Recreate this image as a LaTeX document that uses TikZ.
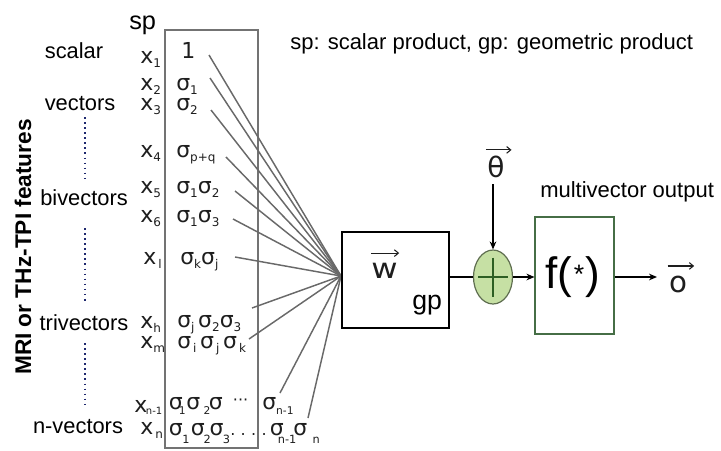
\documentclass[tikz,border=0pt]{standalone}
\usepackage{fontspec}
\setmainfont{Liberation Sans}
\newfontfamily\gfont{DejaVu Sans}
\usetikzlibrary{arrows.meta,shapes.geometric}
\definecolor{fangray}{RGB}{105,105,105}
\definecolor{boxgray}{RGB}{115,115,115}
\definecolor{sumfill}{RGB}{198,224,164}
\definecolor{sumdraw}{RGB}{95,110,80}
\definecolor{plusgreen}{RGB}{45,95,35}
\definecolor{fgreen}{RGB}{70,110,70}
\definecolor{dotnavy}{RGB}{30,40,110}
\definecolor{glyph}{RGB}{30,30,30}
\newcommand\subx[1]{\raisebox{-3pt}{\fontsize{9}{9}\selectfont #1}}
\newcommand\subd[1]{\raisebox{-6pt}{\fontsize{8.5}{9}\selectfont #1}}
\newcommand\subu[1]{\raisebox{-4pt}{\fontsize{8}{8}\selectfont #1}}
\newcommand\putat[2]{\makebox[0pt][l]{\hspace{#1}#2}}
\begin{document}
\begin{tikzpicture}[x=0.75pt,y=-0.75pt,
  lbl/.style={anchor=base,font=\fontsize{16.4}{18}\selectfont,inner sep=0},
  xl/.style={anchor=base west,font=\gfont\fontsize{16.5}{18}\selectfont,inner sep=0,text=glyph},
  sg/.style={anchor=base west,font=\gfont\fontsize{16.5}{18}\selectfont,inner sep=0,text=glyph},
  fan/.style={draw=fangray,line width=1.1pt},
  dotv/.style={draw=dotnavy,line width=1.7pt,dash pattern=on 1.2pt off 2.6pt},
  arr/.style={-{Stealth[length=6pt,width=5pt]},line width=0.9pt},
  vecarr/.style={-{Straight Barb[length=3pt,width=5pt]},line width=0.8pt,draw=glyph},
]
\useasboundingbox (0,0) rectangle (721,450);

% sp container
\node (spbox) [draw=boxgray,line width=1.1pt,minimum width=69.75pt,minimum height=313.5pt,inner sep=0] at (211.5,239) {};
\node (sp) [anchor=base west,inner sep=0,font=\fontsize{19}{20}\selectfont] at (129,29) {sp};
\node (legend) [anchor=base west,inner sep=0,font=\fontsize{16.5}{18}\selectfont] at (290,49) {sp: scalar product, gp: geometric product};

% side label
\node (feat) [rotate=90,inner sep=0,font=\bfseries\fontsize{17}{18}\selectfont] at (23,247) {MRI or THz-TPI features};

% grade labels
\node (scalar) [lbl] at (74,58) {scalar};
\node (vectors) [lbl] at (80,110) {vectors};
\node (bivectors) [lbl] at (84,205) {bivectors};
\node (trivectors) [lbl] at (84,330) {trivectors};
\node (nvectors) [lbl] at (78,433) {n-vectors};

\coordinate (d1a) at (85,117); \coordinate (d1b) at (85,181);
\coordinate (d2a) at (85,228); \coordinate (d2b) at (85,303);
\coordinate (d3a) at (85,343); \coordinate (d3b) at (85,406);
\draw[dotv] (d1a) -- (d1b);
\draw[dotv] (d2a) -- (d2b);
\draw[dotv] (d3a) -- (d3b);

% x labels
\node (x1) [xl] at (140,63) {x\subx{1}};
\node (x2) [xl] at (140,90) {x\subx{2}};
\node (x3) [xl] at (140,110) {x\subx{3}};
\node (x4) [xl] at (140,157) {x\subx{4}};
\node (x5) [xl] at (140,193) {x\subx{5}};
\node (x6) [xl] at (140,222) {x\subx{6}};
\node (xl) [xl] at (143,264) {x\subx{\,l}};
\node (xh) [xl] at (140,328) {x\subx{h}};
\node (xm) [xl] at (140,348) {x\subx{m}};
\node (xn1) [xl] at (134,412) {x\hspace{-1pt}\raisebox{-1.5pt}{\fontsize{7.5}{8}\selectfont n-1}};
\node (xn) [xl] at (140,434) {x\subx{\,n}};

% basis blades
\node (r1) [sg] at (181,58) {1};
\node (r2) [sg] at (176,90) {σ\subx{1}};
\node (r3) [sg] at (176,110) {σ\subx{2}};
\node (r4) [sg] at (176,157) {σ\subx{p+q}};
\node (r5) [sg] at (176,193) {σ\subx{1}σ\subx{2}};
\node (r6) [sg] at (176,222) {σ\subx{1}σ\subx{3}};
\node (r7) [sg] at (180,264) {σ\subx{k}σ\subx{j}};
\node (r8) [sg] at (177,327) {σ\subx{j}\,σ\subx{2}σ\subx{3}};
\node (r9) [sg] at (177,348) {σ\subx{\,i}\,σ\subx{\,j}\,σ\subx{\,k}};
\node (r10) [sg] at (168,409) {\putat{0pt}{σ}\putat{7.5pt}{\subu{1}}\putat{13pt}{σ}\putat{26pt}{\subu{2}}\putat{30pt}{σ}\putat{48pt}{\raisebox{3pt}{\fontsize{12}{12}\selectfont ···}}\hspace{66pt}};
\node (r10b) [sg] at (262,409) {σ\subu{n-1}};
\node (r11) [sg] at (168,435) {\putat{0pt}{σ}\putat{10pt}{\subd{1}}\putat{16.5pt}{σ}\putat{26pt}{\subd{2}}\putat{30.5pt}{σ}\putat{40.5pt}{\subd{3}}\putat{46pt}{\fontsize{12}{12}\selectfont .\,\,.\,\,.\,\,.}\hspace{66pt}};
\node (r11b) [sg] at (269,435) {\putat{0pt}{σ}\putat{6pt}{\subd{n-1}}\putat{17.5pt}{σ}\putat{32pt}{\subd{n}}\hspace{38pt}};

% fan lines
\coordinate (conv) at (341,276);
\coordinate (s1) at (209,55);
\coordinate (s2) at (210,78);
\coordinate (s3) at (211,110);
\coordinate (s4) at (226,157);
\coordinate (s5) at (235,191);
\coordinate (s6) at (233,219);
\coordinate (s7) at (235,257);
\coordinate (s8) at (252,308);
\coordinate (s9) at (249,339);
\coordinate (s10) at (280,393);
\coordinate (s11) at (308,418);
\foreach \s in {s1,s2,s3,s4,s5,s6,s7,s8,s9,s10,s11} \draw[fan] (\s) -- (conv);

% weight box
\node (wbox) [draw=black,line width=0.8pt,minimum width=80.25pt,minimum height=72pt,inner sep=0] at (395.5,280) {};
\node (w) [anchor=base west,inner sep=0,text=glyph,font=\gfont\fontsize{21}{21}\selectfont] at (371,278) {\scalebox{1.15}[1]{w}};
\draw[vecarr] ([yshift=7pt]w.north west) -- ([yshift=7pt,xshift=1pt]w.north east);
\node (gp) [anchor=base west,inner sep=0,font=\fontsize{20}{20}\selectfont] at (412,309) {gp};

% sum
\node (sum) [ellipse,draw=sumdraw,fill=sumfill,line width=0.9pt,minimum width=29.25pt,minimum height=40.5pt,inner sep=0] at (493,277) {};
\draw[plusgreen,line width=0.9pt] ([xshift=-11pt]sum.center) -- ([xshift=11pt]sum.center);
\draw[plusgreen,line width=0.9pt] ([yshift=14.5pt]sum.center) -- ([yshift=-15pt]sum.center);

% theta
\node (theta) [anchor=base,inner sep=0,text=glyph,font=\gfont\fontsize{21}{21}\selectfont] at (496,177) {θ};
\draw[vecarr] ([xshift=-1pt,yshift=4pt]theta.north west) -- ([xshift=5pt,yshift=4pt]theta.north east);
\coordinate (thstart) at (493,184);
\draw[arr] (thstart) -- (sum.north);

% activation
\node (fbox) [draw=fgreen,line width=0.8pt,minimum width=59.25pt,minimum height=87.75pt,inner sep=0] at (574.5,275.5) {};
\node (f) [inner sep=0,font=\fontsize{33}{33}\selectfont] at (573,277) {f(\hspace{1pt}\raisebox{4pt}{\fontsize{20}{20}\selectfont *}\hspace{1pt})};
\node (mvout) [anchor=base west,inner sep=0,font=\fontsize{16.5}{18}\selectfont] at (540,197) {multivector output};

% output
\node (o) [anchor=base west,inner sep=0,text=glyph,font=\gfont\fontsize{22}{22}\selectfont] at (669,292) {o};
\draw[vecarr] ([xshift=-1pt,yshift=7pt]o.north west) -- ([xshift=5pt,yshift=7pt]o.north east);
\coordinate (oend) at (657,277);

% connectors
\draw[line width=0.9pt] (sum.west -| wbox.east) -- (sum.west);
\draw[arr] (sum.east) -- (sum.east -| fbox.west);
\draw[arr] (sum.east -| fbox.east) -- (oend);
\end{tikzpicture}
\end{document}
